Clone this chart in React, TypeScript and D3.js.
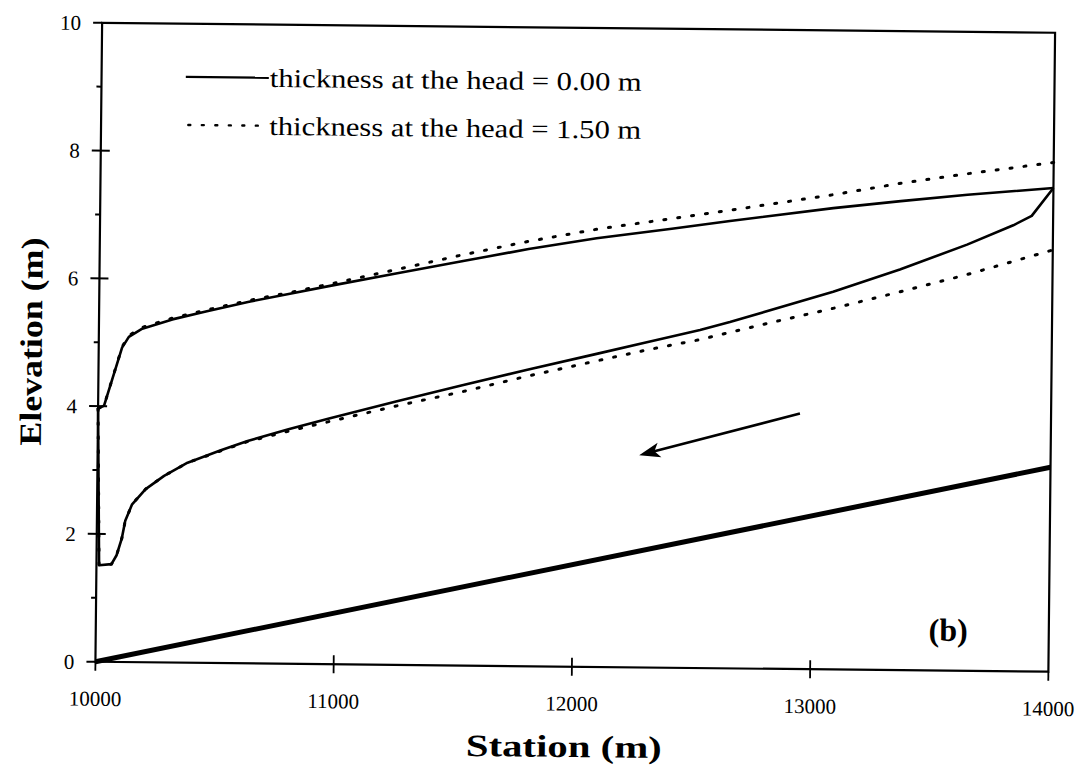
import React from "react";
import * as d3 from "d3";

// ---- data ----
const bedStation = [10000, 14000];
const bedElev = [0, 3.2];

const upperSolidStation = [10000, 10025, 10098, 10126, 10182, 10308, 10448, 10629, 10800, 10968, 11250, 11526, 11800, 12085, 12400, 12644, 13077, 13360, 13640, 14000];
const upperSolidElev = [3.96, 4.01, 4.92, 5.09, 5.22, 5.37, 5.50, 5.66, 5.79, 5.92, 6.13, 6.33, 6.53, 6.71, 6.87, 7.0, 7.22, 7.34, 7.45, 7.57];

const upperDotStation = [10000, 10025, 10098, 10126, 10182, 10308, 10448, 10629, 10800, 10968, 11250, 11526, 11800, 12085, 12400, 12644, 13077, 13360, 13640, 14000];
const upperDotElev = [3.96, 4.01, 4.93, 5.11, 5.24, 5.39, 5.52, 5.68, 5.81, 5.95, 6.19, 6.43, 6.65, 6.85, 7.03, 7.17, 7.43, 7.62, 7.78, 7.97];

const midSolidStation = [10000, 10011, 10063, 10084, 10105, 10119, 10147, 10203, 10280, 10378, 10517, 10629, 10800, 10974, 11250, 11532, 11800, 12090, 12300, 12523, 12648, 13080, 13359, 13640, 13833, 13910, 14000];
const midSolidElev = [3.96, 1.51, 1.53, 1.67, 1.93, 2.21, 2.47, 2.71, 2.92, 3.13, 3.33, 3.48, 3.67, 3.85, 4.12, 4.39, 4.64, 4.90, 5.09, 5.29, 5.42, 5.91, 6.27, 6.67, 6.98, 7.13, 7.57];

const midDotStation = [10000, 10011, 10063, 10084, 10105, 10119, 10147, 10203, 10280, 10378, 10517, 10629, 10800, 10974, 11250, 11532, 11800, 12090, 12300, 12523, 12800, 13080, 13360, 13640, 14000];
const midDotElev = [3.96, 1.51, 1.53, 1.67, 1.93, 2.21, 2.47, 2.71, 2.92, 3.13, 3.32, 3.47, 3.64, 3.80, 4.05, 4.29, 4.54, 4.79, 4.97, 5.14, 5.40, 5.65, 5.92, 6.20, 6.60];

const arrowStation = [12946, 12273];
const arrowElev = [4.0, 3.32];

const xTickValues = [10000, 11000, 12000, 13000, 14000];
const yTickValues = [0, 1, 2, 3, 4, 5, 6, 7, 8, 9, 10];

const legendLabels = ["thickness at the head = 0.00 m", "thickness at the head = 1.50 m"];
const xTitle = "Station (m)";
const yTitle = "Elevation (m)";
const panelLabel = "(b)";

// ---- layout ----
const W = 1087;
const H = 774;
const left = 98.75, right = 1051.75, top = 27.75, bottom = 666.75;
const cx = 575.25, cy = 347.25;
const tilt = 0.6;
const serif = "'Liberation Serif', 'Times New Roman', serif";

export default function App() {
  const x = d3.scaleLinear().domain([10000, 14000]).range([left, right]);
  const y = d3.scaleLinear().domain([0, 10]).range([bottom, top]);

  const toPts = (xs: number[], ys: number[]) => xs.map((v, i) => [v, ys[i]] as [number, number]);
  const line = d3.line<[number, number]>().x(d => x(d[0])).y(d => y(d[1]));

  const ax = x(arrowStation[1]), ay = y(arrowElev[1]);
  const bx = x(arrowStation[0]), by = y(arrowElev[0]);
  const ang = Math.atan2(by - ay, bx - ax);
  const hl = 21, hw = 7.5;
  const baseX = ax + hl * Math.cos(ang), baseY = ay + hl * Math.sin(ang);
  const headPts = [
    [ax, ay],
    [baseX - hw * Math.sin(ang), baseY + hw * Math.cos(ang)],
    [ax + hl * 0.75 * Math.cos(ang), ay + hl * 0.75 * Math.sin(ang)],
    [baseX + hw * Math.sin(ang), baseY - hw * Math.cos(ang)],
  ].map(p => p.join(",")).join(" ");

  return (
    <svg width={W} height={H} style={{ display: "block", position: "absolute", left: 0, top: 0, background: "#fff" }}>
      <rect width={W} height={H} fill="#fff" />
      <g transform={`rotate(${tilt}, ${cx}, ${cy})`} fontFamily={serif} fill="#000">
        {/* frame */}
        <rect x={left} y={top} width={right - left} height={bottom - top} fill="none" stroke="#000" strokeWidth={2.2} />

        {/* y ticks */}
        {yTickValues.map(v => {
          const major = v % 2 === 0;
          return (
            <g key={"y" + v}>
              <line x1={left - (major ? 9 : 5)} x2={left + (major && v > 0 && v < 10 ? 9 : 0)} y1={y(v)} y2={y(v)} stroke="#000" strokeWidth={2} />
              {major && (
                <text x={left - 21} y={y(v)} dy="0.35em" textAnchor="end" fontSize={21}>{v}</text>
              )}
            </g>
          );
        })}

        {/* x ticks */}
        {xTickValues.map((v, i) => (
          <g key={"x" + v}>
            <line x1={x(v)} x2={x(v)} y1={bottom - (i > 0 && i < xTickValues.length - 1 ? 9 : 0)} y2={bottom + 9} stroke="#000" strokeWidth={1.8} />
            <text x={x(v)} y={bottom + 44} textAnchor="middle" fontSize={21}>{v}</text>
          </g>
        ))}

        {/* bed */}
        <path d={line(toPts(bedStation, bedElev)) || ""} fill="none" stroke="#000" strokeWidth={5} />

        {/* curves */}
        <path d={line(toPts(upperDotStation, upperDotElev)) || ""} fill="none" stroke="#000" strokeWidth={3} strokeDasharray="2 12" strokeLinecap="round" />
        <path d={line(toPts(midDotStation, midDotElev)) || ""} fill="none" stroke="#000" strokeWidth={3} strokeDasharray="2 12" strokeLinecap="round" />
        <path d={line(toPts(upperSolidStation, upperSolidElev)) || ""} fill="none" stroke="#000" strokeWidth={2.6} strokeLinejoin="round" />
        <path d={line(toPts(midSolidStation, midSolidElev)) || ""} fill="none" stroke="#000" strokeWidth={2.6} strokeLinejoin="round" />

        {/* arrow */}
        <line x1={bx} y1={by} x2={ax + hl * 0.7 * Math.cos(ang)} y2={ay + hl * 0.7 * Math.sin(ang)} stroke="#000" strokeWidth={2.6} />
        <polygon points={headPts} fill="#000" />

        {/* legend */}
        <line x1={183} x2={266} y1={81} y2={81} stroke="#000" strokeWidth={2.4} />
        <text x={267} y={81} dy="0.35em" fontSize={26} textLength={372} lengthAdjust="spacingAndGlyphs">{legendLabels[0]}</text>
        <line x1={186} x2={266} y1={129} y2={129} stroke="#000" strokeWidth={2.4} strokeDasharray="2 11.5" strokeLinecap="round" />
        <text x={267} y={129} dy="0.35em" fontSize={26} textLength={372} lengthAdjust="spacingAndGlyphs">{legendLabels[1]}</text>

        {/* panel label */}
        <text x={x(13578)} y={y(0.64)} dy="0.35em" textAnchor="middle" fontSize={32} fontWeight="bold">{panelLabel}</text>

        {/* axis titles */}
        <text x={568} y={757} textAnchor="middle" fontSize={31} fontWeight="bold" textLength={196} lengthAdjust="spacingAndGlyphs">{xTitle}</text>
        <text transform={`translate(31, ${(top + bottom) / 2}) rotate(-90)`} textAnchor="middle" dy="0.35em" fontSize={31} fontWeight="bold" textLength={208} lengthAdjust="spacingAndGlyphs">{yTitle}</text>
      </g>
    </svg>
  );
}
